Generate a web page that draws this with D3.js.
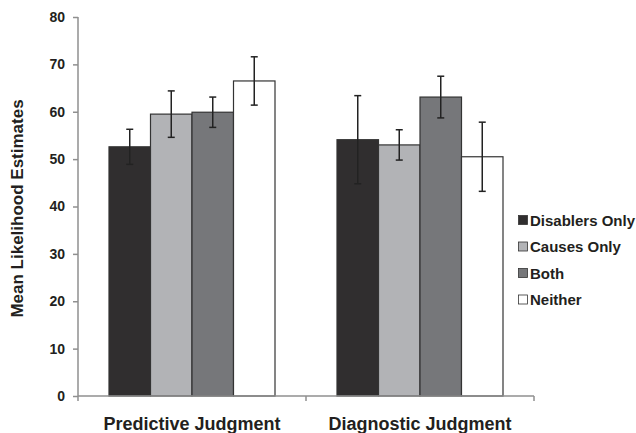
<!DOCTYPE html>
<html>
<head>
<meta charset="utf-8">
<script src="https://cdn.jsdelivr.net/npm/d3@7"></script>
<style>
  body { margin: 0; background: #fff; }
  svg text { font-family: "Liberation Sans", Arial, sans-serif; font-weight: bold; fill: #231f20; }
</style>
</head>
<body>
<div id="chart"></div>
<script>
// data
var categories = ["Predictive Judgment", "Diagnostic Judgment"];
var seriesNames = ["Disablers Only", "Causes Only", "Both", "Neither"];
var seriesColors = ["#302e2f", "#b2b3b6", "#76777a", "#ffffff"];
var means = [
    [52.6, 59.5, 59.9, 66.5],
    [54.1, 53.0, 63.1, 50.5]
];
var errors = [
    [3.7, 4.9, 3.2, 5.1],
    [9.3, 3.2, 4.4, 7.3]
];
var yTicks = [0, 10, 20, 30, 40, 50, 60, 70, 80];

var width = 636, height = 433;
var margin = {top: 17, left: 78, bottom: 37, right: 102};
var plotW = width - margin.left - margin.right;
var plotH = height - margin.top - margin.bottom;

var svg = d3.select('#chart').append('svg')
    .attr('width', width)
    .attr('height', height);

var g = svg.append('g')
    .attr('transform', 'translate(' + margin.left + ',' + margin.top + ')');

var x0 = d3.scaleBand().domain(categories).range([0, plotW]).paddingInner(0).paddingOuter(0);
var x1 = d3.scaleBand().domain(seriesNames).range([31, x0.bandwidth() - 31]);
var y = d3.scaleLinear().domain([0, 80]).range([plotH, 0]);

// bars
var groups = g.selectAll('.grp')
    .data(categories)
    .enter().append('g')
    .attr('class', 'grp')
    .attr('transform', function(d){ return 'translate(' + x0(d) + ',0)'; });

groups.each(function(cat, ci){
    var grp = d3.select(this);
    var rows = seriesNames.map(function(s, si){
        return {name: s, v: means[ci][si], e: errors[ci][si], color: seriesColors[si]};
    });

    grp.selectAll('rect')
        .data(rows)
        .enter().append('rect')
        .attr('x', function(d){ return x1(d.name); })
        .attr('y', function(d){ return y(d.v); })
        .attr('width', x1.bandwidth())
        .attr('height', function(d){ return y(0) - y(d.v); })
        .attr('fill', function(d){ return d.color; })
        .attr('stroke', '#333')
        .attr('stroke-width', 1.2);

    // error bars
    var eb = grp.selectAll('.err')
        .data(rows)
        .enter().append('g')
        .attr('class', 'err')
        .attr('stroke', '#222')
        .attr('stroke-width', 1.5);
    eb.append('line')
        .attr('x1', function(d){ return x1(d.name) + x1.bandwidth() / 2; })
        .attr('x2', function(d){ return x1(d.name) + x1.bandwidth() / 2; })
        .attr('y1', function(d){ return y(d.v + d.e); })
        .attr('y2', function(d){ return y(d.v - d.e); });
    [1, -1].forEach(function(sgn){
        eb.append('line')
            .attr('x1', function(d){ return x1(d.name) + x1.bandwidth() / 2 - 3.5; })
            .attr('x2', function(d){ return x1(d.name) + x1.bandwidth() / 2 + 3.5; })
            .attr('y1', function(d){ return y(d.v + sgn * d.e); })
            .attr('y2', function(d){ return y(d.v + sgn * d.e); });
    });
});

// y axis
var yAxis = g.append('g')
    .call(d3.axisLeft(y).tickValues(yTicks).tickSize(5).tickPadding(8));
yAxis.select('.domain').attr('stroke', '#8f8f8f').attr('stroke-width', 1.5)
    .attr('d', 'M0,' + y(80) + 'V' + y(0));
yAxis.selectAll('.tick line').attr('stroke', '#8f8f8f').attr('stroke-width', 1.5);
yAxis.selectAll('.tick text').style('font-size', '14px').attr('fill', '#231f20');

// x axis
var xAxis = g.append('g')
    .attr('transform', 'translate(0,' + plotH + ')');
xAxis.append('line')
    .attr('x1', 0).attr('x2', plotW)
    .attr('stroke', '#8f8f8f').attr('stroke-width', 1.5);
xAxis.selectAll('.sep')
    .data(categories.concat(['end']))
    .enter().append('line')
    .attr('x1', function(d, i){ return i * x0.bandwidth(); })
    .attr('x2', function(d, i){ return i * x0.bandwidth(); })
    .attr('y1', 0).attr('y2', 5)
    .attr('stroke', '#8f8f8f').attr('stroke-width', 1.5);
xAxis.selectAll('.cat')
    .data(categories)
    .enter().append('text')
    .attr('x', function(d){ return x0(d) + x0.bandwidth() / 2; })
    .attr('y', 34)
    .attr('text-anchor', 'middle')
    .style('font-size', '18px')
    .text(function(d){ return d; });

// y title
svg.append('text')
    .attr('transform', 'translate(23,' + (margin.top + plotH / 2 + 2) + ') rotate(-90)')
    .attr('text-anchor', 'middle')
    .style('font-size', '17px')
    .text('Mean Likelihood Estimates');

// legend
var legend = svg.append('g').attr('transform', 'translate(518,220)');
var items = legend.selectAll('.item')
    .data(seriesNames)
    .enter().append('g')
    .attr('transform', function(d, i){ return 'translate(0,' + (i * 26.5) + ')'; });
items.append('rect')
    .attr('x', 0.5).attr('y', -4.5)
    .attr('width', 9).attr('height', 9)
    .attr('fill', function(d, i){ return seriesColors[i]; })
    .attr('stroke', '#333').attr('stroke-width', 0.8);
items.append('text')
    .attr('x', 12).attr('y', 5.5)
    .style('font-size', '15px')
    .text(function(d){ return d; });
</script>
</body>
</html>
